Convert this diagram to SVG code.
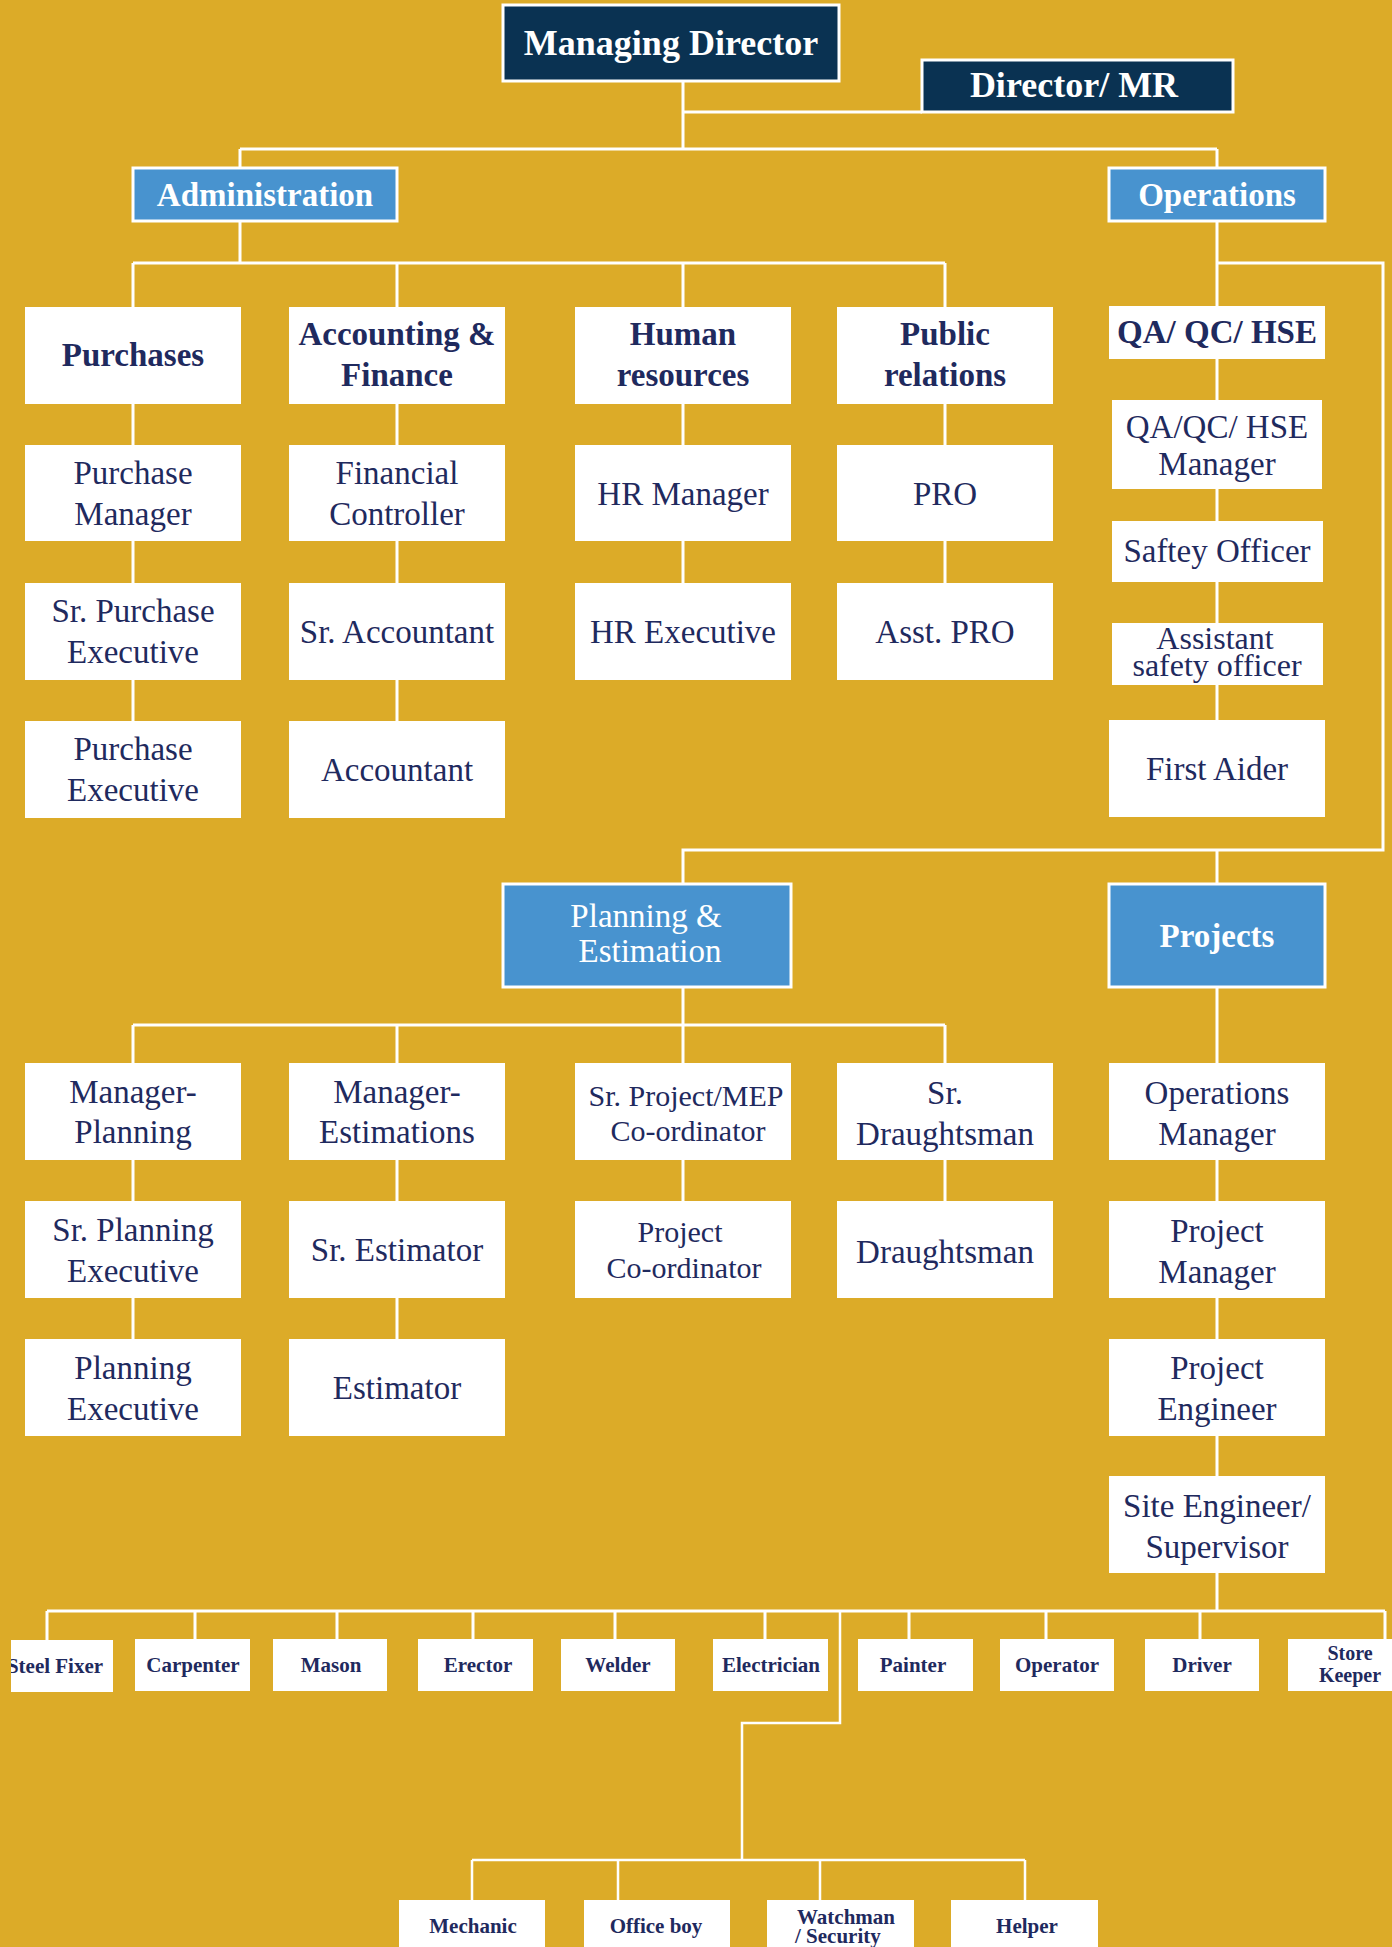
<svg xmlns="http://www.w3.org/2000/svg" width="1392" height="1947" viewBox="0 0 1392 1947">
<style>
.bg{fill:#DCAB28}
.wb{fill:#FFFFFF}
.db{fill:#0A3252;stroke:#FFFFFF;stroke-width:3}
.bb{fill:#4893CF;stroke:#FFFFFF;stroke-width:3}
text{font-family:"Liberation Serif","Times New Roman",serif;text-anchor:middle;fill:#1F2A5E}
.t{font-size:33px}
.tb{font-size:33px;font-weight:bold}
.ts{font-size:30px}
.tw{fill:#FFFFFF}
.w{font-size:21px;font-weight:bold}
.c{stroke:#FFFFFF;stroke-width:3;fill:none}
.c2{stroke:#FFFFFF;stroke-width:2.5;fill:none}
</style>
<defs>
<clipPath id="clipSteel"><rect x="11" y="1640" width="102" height="52"/></clipPath>
</defs>
<rect class="bg" x="0" y="0" width="1392" height="1947"/>

<g id="connectors">
<path class="c" d="M683 81V149M683 112H922M240 149H1217M240 149V168M1217 149V168"/>
<path class="c" d="M240 221V263M133 263H945M133 263V307M397 263V307M683 263V307M945 263V307"/>
<path class="c" d="M133 404V721M397 404V721M683 404V583M945 404V583"/>
<path class="c" d="M1217 221V720M1217 263H1383V850H683V884M1217 850V884"/>
<path class="c" d="M683 987V1025M133 1025H945M133 1025V1063M397 1025V1063M683 1025V1063M945 1025V1063"/>
<path class="c" d="M133 1160V1339M397 1160V1339M683 1160V1201M945 1160V1201"/>
<path class="c" d="M1217 987V1611"/>
<path class="c" d="M47 1611H1385M47 1611V1640M195 1611V1639M337 1611V1639M473 1611V1639M615 1611V1639M765 1611V1639M909 1611V1639M1046 1611V1639M1200 1611V1639M1385 1611V1639"/>
<path class="c2" d="M840 1611V1723H742V1860M472 1860H1025M472 1860V1900M618 1860V1900M820 1860V1900M1025 1860V1900"/>
</g>

<g id="managing-director"><rect class="db" x="503" y="5" width="336" height="76"/><text class="tw" x="671" y="55" style="font-size:36px;font-weight:bold">Managing Director</text></g>
<g id="director-mr"><rect class="db" x="922" y="60" width="311" height="52"/><text class="tw" x="1074" y="97" style="font-size:36px;font-weight:bold">Director/ MR</text></g>

<g id="administration"><rect class="bb" x="133" y="168" width="264" height="53"/><text class="tb tw" x="265" y="206">Administration</text></g>
<g id="operations"><rect class="bb" x="1109" y="168" width="216" height="53"/><text class="tb tw" x="1217" y="206">Operations</text></g>

<g id="purchases"><rect class="wb" x="25" y="307" width="216" height="97"/><text class="tb" x="133" y="366">Purchases</text></g>
<g id="accounting-finance"><rect class="wb" x="289" y="307" width="216" height="97"/><text class="tb" x="397" y="345">Accounting &amp;</text><text class="tb" x="397" y="386">Finance</text></g>
<g id="human-resources"><rect class="wb" x="575" y="307" width="216" height="97"/><text class="tb" x="683" y="345">Human</text><text class="tb" x="683" y="386">resources</text></g>
<g id="public-relations"><rect class="wb" x="837" y="307" width="216" height="97"/><text class="tb" x="945" y="345">Public</text><text class="tb" x="945" y="386">relations</text></g>

<g id="purchase-manager"><rect class="wb" x="25" y="445" width="216" height="96"/><text class="t" x="133" y="484">Purchase</text><text class="t" x="133" y="525">Manager</text></g>
<g id="financial-controller"><rect class="wb" x="289" y="445" width="216" height="96"/><text class="t" x="397" y="484">Financial</text><text class="t" x="397" y="525">Controller</text></g>
<g id="hr-manager"><rect class="wb" x="575" y="445" width="216" height="96"/><text class="t" x="683" y="505">HR Manager</text></g>
<g id="pro"><rect class="wb" x="837" y="445" width="216" height="96"/><text class="t" x="945" y="505">PRO</text></g>

<g id="sr-purchase-executive"><rect class="wb" x="25" y="583" width="216" height="97"/><text class="t" x="133" y="622">Sr. Purchase</text><text class="t" x="133" y="663">Executive</text></g>
<g id="sr-accountant"><rect class="wb" x="289" y="583" width="216" height="97"/><text class="t" x="397" y="643">Sr. Accountant</text></g>
<g id="hr-executive"><rect class="wb" x="575" y="583" width="216" height="97"/><text class="t" x="683" y="643">HR Executive</text></g>
<g id="asst-pro"><rect class="wb" x="837" y="583" width="216" height="97"/><text class="t" x="945" y="643">Asst. PRO</text></g>

<g id="purchase-executive"><rect class="wb" x="25" y="721" width="216" height="97"/><text class="t" x="133" y="760">Purchase</text><text class="t" x="133" y="801">Executive</text></g>
<g id="accountant"><rect class="wb" x="289" y="721" width="216" height="97"/><text class="t" x="397" y="781">Accountant</text></g>

<g id="qa-qc-hse"><rect class="wb" x="1109" y="306" width="216" height="53"/><text class="tb" x="1217" y="343">QA/ QC/ HSE</text></g>
<g id="qa-qc-hse-manager"><rect class="wb" x="1112" y="400" width="210" height="89"/><text class="t" x="1217" y="438">QA/QC/ HSE</text><text class="t" x="1217" y="475">Manager</text></g>
<g id="saftey-officer"><rect class="wb" x="1112" y="521" width="211" height="61"/><text class="t" x="1217" y="562">Saftey Officer</text></g>
<g id="assistant-safety-officer"><rect class="wb" x="1112" y="623" width="211" height="62"/><text class="t" x="1215" y="649" style="font-size:32px">Assistant</text><text class="t" x="1217" y="676" style="font-size:32px">safety officer</text></g>
<g id="first-aider"><rect class="wb" x="1109" y="720" width="216" height="97"/><text class="t" x="1217" y="780">First Aider</text></g>

<g id="planning-estimation"><rect class="bb" x="503" y="884" width="288" height="103"/><text class="t tw" x="646" y="927">Planning &amp;</text><text class="t tw" x="650" y="962">Estimation</text></g>
<g id="projects"><rect class="bb" x="1109" y="884" width="216" height="103"/><text class="tb tw" x="1217" y="947">Projects</text></g>

<g id="manager-planning"><rect class="wb" x="25" y="1063" width="216" height="97"/><text class="t" x="133" y="1103">Manager-</text><text class="t" x="133" y="1143">Planning</text></g>
<g id="manager-estimations"><rect class="wb" x="289" y="1063" width="216" height="97"/><text class="t" x="397" y="1103">Manager-</text><text class="t" x="397" y="1143">Estimations</text></g>
<g id="sr-project-mep-coordinator"><rect class="wb" x="575" y="1063" width="216" height="97"/><text class="ts" x="686" y="1106">Sr. Project/MEP</text><text class="ts" x="688" y="1141">Co-ordinator</text></g>
<g id="sr-draughtsman"><rect class="wb" x="837" y="1063" width="216" height="97"/><text class="t" x="945" y="1104">Sr.</text><text class="t" x="945" y="1145">Draughtsman</text></g>
<g id="operations-manager"><rect class="wb" x="1109" y="1063" width="216" height="97"/><text class="t" x="1217" y="1104">Operations</text><text class="t" x="1217" y="1145">Manager</text></g>

<g id="sr-planning-executive"><rect class="wb" x="25" y="1201" width="216" height="97"/><text class="t" x="133" y="1241">Sr. Planning</text><text class="t" x="133" y="1282">Executive</text></g>
<g id="sr-estimator"><rect class="wb" x="289" y="1201" width="216" height="97"/><text class="t" x="397" y="1261">Sr. Estimator</text></g>
<g id="project-coordinator"><rect class="wb" x="575" y="1201" width="216" height="97"/><text class="ts" x="680" y="1242">Project</text><text class="ts" x="684" y="1278">Co-ordinator</text></g>
<g id="draughtsman"><rect class="wb" x="837" y="1201" width="216" height="97"/><text class="t" x="945" y="1263">Draughtsman</text></g>
<g id="project-manager"><rect class="wb" x="1109" y="1201" width="216" height="97"/><text class="t" x="1217" y="1242">Project</text><text class="t" x="1217" y="1283">Manager</text></g>

<g id="planning-executive"><rect class="wb" x="25" y="1339" width="216" height="97"/><text class="t" x="133" y="1379">Planning</text><text class="t" x="133" y="1420">Executive</text></g>
<g id="estimator"><rect class="wb" x="289" y="1339" width="216" height="97"/><text class="t" x="397" y="1399">Estimator</text></g>
<g id="project-engineer"><rect class="wb" x="1109" y="1339" width="216" height="97"/><text class="t" x="1217" y="1379">Project</text><text class="t" x="1217" y="1420">Engineer</text></g>

<g id="site-engineer-supervisor"><rect class="wb" x="1109" y="1476" width="216" height="97"/><text class="t" x="1217" y="1517">Site Engineer/</text><text class="t" x="1217" y="1558">Supervisor</text></g>

<g id="steel-fixer"><rect class="wb" x="11" y="1640" width="102" height="52"/><text class="w" x="55" y="1673" clip-path="url(#clipSteel)">Steel Fixer</text></g>
<g id="carpenter"><rect class="wb" x="135" y="1639" width="115" height="52"/><text class="w" x="193" y="1672">Carpenter</text></g>
<g id="mason"><rect class="wb" x="273" y="1639" width="114" height="52"/><text class="w" x="331" y="1672">Mason</text></g>
<g id="erector"><rect class="wb" x="418" y="1639" width="115" height="52"/><text class="w" x="478" y="1672">Erector</text></g>
<g id="welder"><rect class="wb" x="561" y="1639" width="114" height="52"/><text class="w" x="618" y="1672">Welder</text></g>
<g id="electrician"><rect class="wb" x="713" y="1639" width="115" height="52"/><text class="w" x="771" y="1672">Electrician</text></g>
<g id="painter"><rect class="wb" x="858" y="1639" width="115" height="52"/><text class="w" x="913" y="1672">Painter</text></g>
<g id="operator"><rect class="wb" x="1000" y="1639" width="114" height="52"/><text class="w" x="1057" y="1672">Operator</text></g>
<g id="driver"><rect class="wb" x="1145" y="1639" width="114" height="52"/><text class="w" x="1202" y="1672">Driver</text></g>
<g id="store-keeper"><rect class="wb" x="1288" y="1639" width="104" height="52"/><text class="w" x="1350" y="1660" style="font-size:20px">Store</text><text class="w" x="1350" y="1682" style="font-size:20px">Keeper</text></g>

<g id="mechanic"><rect class="wb" x="399" y="1900" width="146" height="50"/><text class="w" x="473" y="1933">Mechanic</text></g>
<g id="office-boy"><rect class="wb" x="584" y="1900" width="146" height="50"/><text class="w" x="656" y="1933">Office boy</text></g>
<g id="watchman-security"><rect class="wb" x="767" y="1900" width="147" height="50"/><text class="w" x="797" y="1924" style="text-anchor:start">Watchman</text><text class="w" x="795" y="1943" style="text-anchor:start">/ Security</text></g>
<g id="helper"><rect class="wb" x="951" y="1900" width="147" height="50"/><text class="w" x="1027" y="1933">Helper</text></g>
</svg>
